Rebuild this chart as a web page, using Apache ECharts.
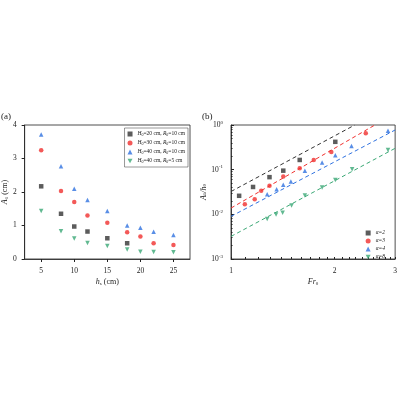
<!DOCTYPE html>
<html><head><meta charset="utf-8">
<script src="https://cdn.jsdelivr.net/npm/echarts@6/dist/echarts.min.js"></script>
<style>html,body{margin:0;background:#fff}#c{width:400px;height:400px}</style>
</head><body><div id="c"></div>
<script>
var myChart = echarts.init(document.getElementById('c'));
var FONT = 'Liberation Serif';

// (a) amplitude vs h_s
var hs = [5, 8, 10, 12, 15, 18, 20, 22, 25];
var aBlack = [2.17, 1.35, 0.97, 0.82, 0.62, 0.47];
var aRed = [3.25, 2.03, 1.7, 1.3, 1.08, 0.8, 0.67, 0.47, 0.42];
var aBlue = [3.72, 2.77, 2.1, 1.76, 1.43, 1.0, 0.93, 0.81, 0.72];
var aGreen = [1.43, 0.83, 0.61, 0.48, 0.39, 0.28, 0.22, 0.21, 0.2];
var aNames = ['H0=20 cm, R0=10 cm', 'H0=30 cm, R0=10 cm', 'H0=40 cm, R0=10 cm', 'H0=40 cm, R0=5 cm'];

// (b) A1/h0 vs Fr0
var fr2 = [1.056, 1.159, 1.294, 1.419, 1.584, 2.01];
var y2 = [0.026, 0.041, 0.068, 0.095, 0.165, 0.42];
var fr3 = [1.097, 1.172, 1.224, 1.294, 1.419, 1.584, 1.74, 1.957, 2.465];
var y3 = [0.0169, 0.0219, 0.0336, 0.0434, 0.070, 0.108, 0.165, 0.249, 0.65];
var fr4 = [1.274, 1.357, 1.419, 1.493, 1.64, 1.84, 2.01, 2.24, 2.86];
var y4 = [0.0283, 0.0366, 0.0457, 0.054, 0.095, 0.144, 0.21, 0.34, 0.747];
var fr8 = [1.274, 1.352, 1.413, 1.5, 1.64, 1.84, 2.01, 2.25, 2.86];
var y8 = [0.0079, 0.0099, 0.0108, 0.0158, 0.0264, 0.0398, 0.059, 0.102, 0.277];
var alphaNames = ['α=2', 'α=3', 'α=4', 'α=8'];
// dashed fit lines: [Fr start, y start, Fr end, y end]
var fits = [[1, 0.0324, 2.29, 1], [1, 0.0138, 2.62, 1], [1, 0.009, 3, 0.773], [1, 0.0032, 3, 0.301]];

var colors = ['#333333', '#f0302e', '#2f72e0', '#3aa875'];
var symbols = ['rect', 'circle', 'triangle', 'path://M0,0L10,0L5,9Z'];
var majorFr = [1, 2, 3];
var minorFr = [1.1, 1.2, 1.3, 1.4, 1.5, 1.6, 1.7, 1.8, 1.9, 2.1, 2.2, 2.3, 2.4, 2.5, 2.6, 2.7, 2.8, 2.9];

function zip(a, b) { return a.map(function (v, i) { return [v, b[i]]; }); }

var lbl = { fontFamily: FONT, fontSize: 7.5, color: '#222' };
var axLine = { lineStyle: { color: '#222', width: 0.8 } };
var nameRich = {
  i: { fontStyle: 'italic', fontSize: 8, fontFamily: FONT },
  s: { fontSize: 5, fontFamily: FONT, verticalAlign: 'bottom' }
};

var seriesA = [aBlack, aRed, aBlue, aGreen].map(function (d, i) {
  return {
    name: aNames[i], type: 'scatter', xAxisIndex: 0, yAxisIndex: 0,
    symbol: symbols[i], symbolSize: 4.5, itemStyle: { color: colors[i] },
    data: zip(hs, d)
  };
});
var seriesB = [[fr2, y2], [fr3, y3], [fr4, y4], [fr8, y8]].map(function (d, i) {
  return {
    name: alphaNames[i], type: 'scatter', xAxisIndex: 1, yAxisIndex: 1,
    symbol: symbols[i], symbolSize: 4.5, itemStyle: { color: colors[i] },
    data: zip(d[0], d[1])
  };
});
var fitSeries = fits.map(function (f, i) {
  return {
    type: 'line', xAxisIndex: 1, yAxisIndex: 1, symbol: 'none', silent: true,
    lineStyle: { color: colors[i], type: [4, 3], width: 1 },
    data: [[f[0], f[1]], [f[2], f[3]]]
  };
});

var legendFmt = function (name) {
  var m = name.match(/H0=(\d+) cm, R0=(\d+) cm/);
  return '{i|H}{s|0}=' + m[1] + ' cm, {i|R}{s|0}=' + m[2] + ' cm';
};

var option = {
  backgroundColor: '#fff',
  animation: false,
  grid: [
    { left: 23, right: 210, top: 125, bottom: 141, show: true, borderColor: '#222', borderWidth: 0.8 },
    { left: 231, right: 4, top: 125, bottom: 141, show: true, borderColor: '#222', borderWidth: 0.8 }
  ],
  legend: [
    {
      data: aNames, right: 212, top: 128, orient: 'vertical', itemWidth: 5, itemHeight: 5, itemGap: 3,
      borderColor: '#333', borderWidth: 0.5, padding: [3, 3, 3, 3],
      formatter: legendFmt,
      textStyle: { fontFamily: FONT, fontSize: 5.5, color: '#222',
        rich: { i: { fontStyle: 'italic', fontSize: 5.5, fontFamily: FONT }, s: { fontSize: 4, fontFamily: FONT, verticalAlign: 'bottom' } } }
    },
    {
      data: alphaNames, right: 10, top: 225, orient: 'vertical', itemWidth: 5, itemHeight: 5, itemGap: 2,
      textStyle: { fontFamily: FONT, fontSize: 5.5, fontStyle: 'italic', color: '#222' }
    }
  ],
  xAxis: [
    {
      gridIndex: 0, type: 'value', min: 2.5, max: 27.5, interval: 5,
      axisLabel: Object.assign({ customValues: [5, 10, 15, 20, 25] }, lbl),
      axisTick: { customValues: [5, 10, 15, 20, 25], length: 3, lineStyle: { color: '#222' } },
      axisLine: axLine, splitLine: { show: false },
      name: '{i|h}{s|s} (cm)', nameLocation: 'middle', nameGap: 19,
      nameTextStyle: { fontFamily: FONT, fontSize: 8, color: '#222', rich: nameRich }
    },
    {
      gridIndex: 1, type: 'log', logBase: 10, min: 1, max: 3,
      axisLabel: Object.assign({ customValues: majorFr, formatter: function (v) { return Math.round(v) + ''; } }, lbl),
      axisTick: { customValues: majorFr.concat(minorFr), inside: true, length: 2, lineStyle: { color: '#222' } },
      axisLine: axLine, splitLine: { show: false }, minorTick: { show: false },
      name: '{i|Fr}{s|0}', nameLocation: 'middle', nameGap: 19,
      nameTextStyle: { fontFamily: FONT, fontSize: 8, color: '#222', rich: nameRich }
    }
  ],
  yAxis: [
    {
      gridIndex: 0, type: 'value', min: 0, max: 4, interval: 1,
      axisLabel: lbl, axisTick: { length: 3, lineStyle: { color: '#222' } },
      axisLine: Object.assign({ show: true }, axLine), splitLine: { show: false },
      name: '{i|A}{s|1} (cm)', nameLocation: 'middle', nameGap: 12,
      nameTextStyle: { fontFamily: FONT, fontSize: 8, color: '#222', rich: nameRich }
    },
    {
      gridIndex: 1, type: 'log', logBase: 10, min: 0.001, max: 1,
      axisLabel: Object.assign({
        formatter: function (v) { return '10{s|' + Math.round(Math.log10(v)) + '}'; },
        rich: { s: { fontSize: 5, fontFamily: FONT, verticalAlign: 'top', padding: [0, 0, 5, 0] } }
      }, lbl),
      axisTick: { inside: true, length: 3, lineStyle: { color: '#222' } },
      minorTick: { show: true, splitNumber: 9, length: 1.5, lineStyle: { color: '#222' } },
      axisLine: Object.assign({ show: true }, axLine), splitLine: { show: false },
      name: '{i|A}{s|1}{i|/h}{s|0}', nameLocation: 'middle', nameGap: 18,
      nameTextStyle: { fontFamily: FONT, fontSize: 8, color: '#222', rich: nameRich }
    }
  ],
  graphic: [
    { type: 'text', left: 1, top: 112, style: { text: '(a)', font: '9px "Liberation Serif"', fill: '#222' } },
    { type: 'text', left: 202, top: 112, style: { text: '(b)', font: '9px "Liberation Serif"', fill: '#222' } }
  ],
  series: fitSeries.concat(seriesA, seriesB)
};

myChart.setOption(option);
</script>
</body></html>
